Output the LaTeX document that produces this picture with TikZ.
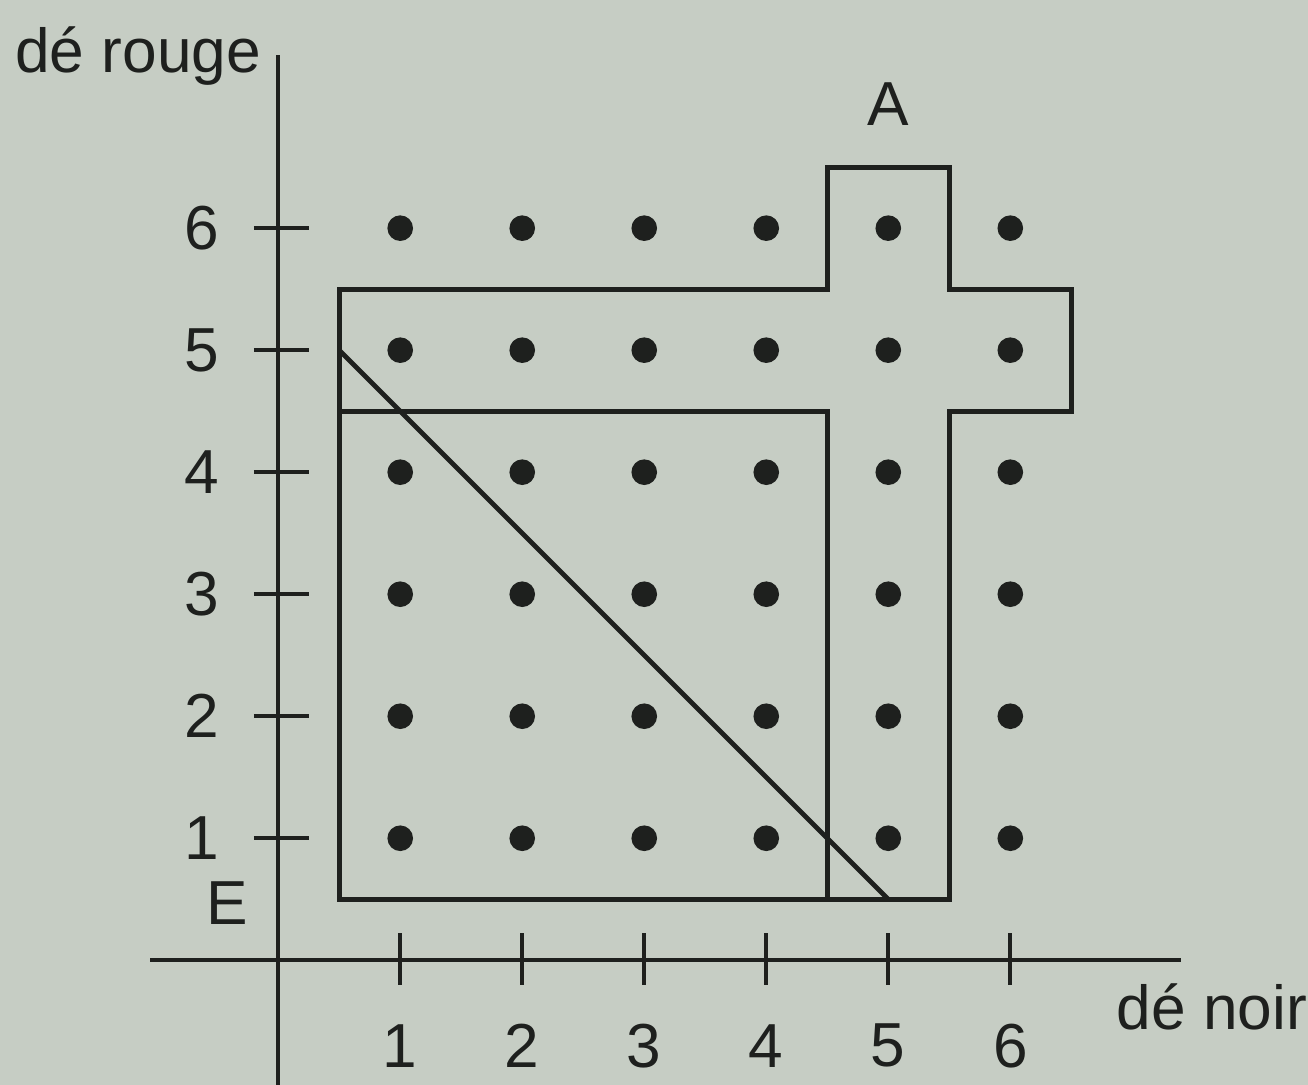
\documentclass[tikz,border=0pt]{standalone}
\usepackage{fontspec}
\setmainfont{Liberation Sans}
\usetikzlibrary{positioning,calc}
\definecolor{paper}{HTML}{C6CDC4}
\definecolor{ink}{HTML}{1E201E}

\begin{document}
\begin{tikzpicture}[
  x=1cm,y=1cm,
  font=\fontsize{14.5}{17}\selectfont, text=ink,
  axis/.style={draw=ink, line width=0.95pt},
  tick/.style={draw=ink, line width=0.95pt},
  region/.style={draw=ink, line width=1.1pt},
  dot/.style={circle, fill=ink, inner sep=0pt, minimum size=2.1mm},
  lbl/.style={inner sep=1pt},
]
% background (photo paper)
\fill[paper] (-2.28,-1.02) rectangle (8.44,7.87);
\useasboundingbox (-2.28,-1.02) rectangle (8.44,7.87);
% axes
\coordinate (xs) at (-1.05,0);
\coordinate (xe) at (7.4,0);
\coordinate (ys) at (0,-1.02);
\coordinate (ye) at (0,7.42);
\draw[axis] (xs) -- (xe);
\draw[axis] (ys) -- (ye);
\node[lbl, anchor=west] (xname) at (6.83,-0.38) {dé noir};
\node[lbl, anchor=east] (yname) at (-0.1,7.41) {dé rouge};
% ticks and numbers
\foreach \i in {1,...,6} {
  \coordinate (xt\i a) at (\i,0.22);
  \coordinate (xt\i b) at (\i,-0.2);
  \draw[tick] (xt\i a) -- (xt\i b);
  \node[lbl] (xn\i) at (\i,-0.7) {\i};
  \coordinate (yt\i a) at (-0.2,\i);
  \coordinate (yt\i b) at (0.25,\i);
  \draw[tick] (yt\i a) -- (yt\i b);
  \node[lbl] (yn\i) at (-0.63,\i) {\i};
}
% the 36 outcomes
\foreach \i in {1,...,6}
  \foreach \j in {1,...,6}
    \node[dot] (d\i\j) at (\i,\j) {};
% event A (outline) and E
\draw[region] (0.5,0.5) -- (0.5,5.5) -- (4.5,5.5) -- (4.5,6.5) -- (5.5,6.5)
  -- (5.5,5.5) -- (6.5,5.5) -- (6.5,4.5) -- (5.5,4.5) -- (5.5,0.5) -- cycle;
\draw[region] (0.5,4.5) -- (4.5,4.5) -- (4.5,0.5);
\draw[region] (0.5,5) -- (5,0.5);
\node[lbl] (A) at (5,7.02) {A};
\node[lbl] (E) at (-0.42,0.47) {E};
\end{tikzpicture}
\end{document}
